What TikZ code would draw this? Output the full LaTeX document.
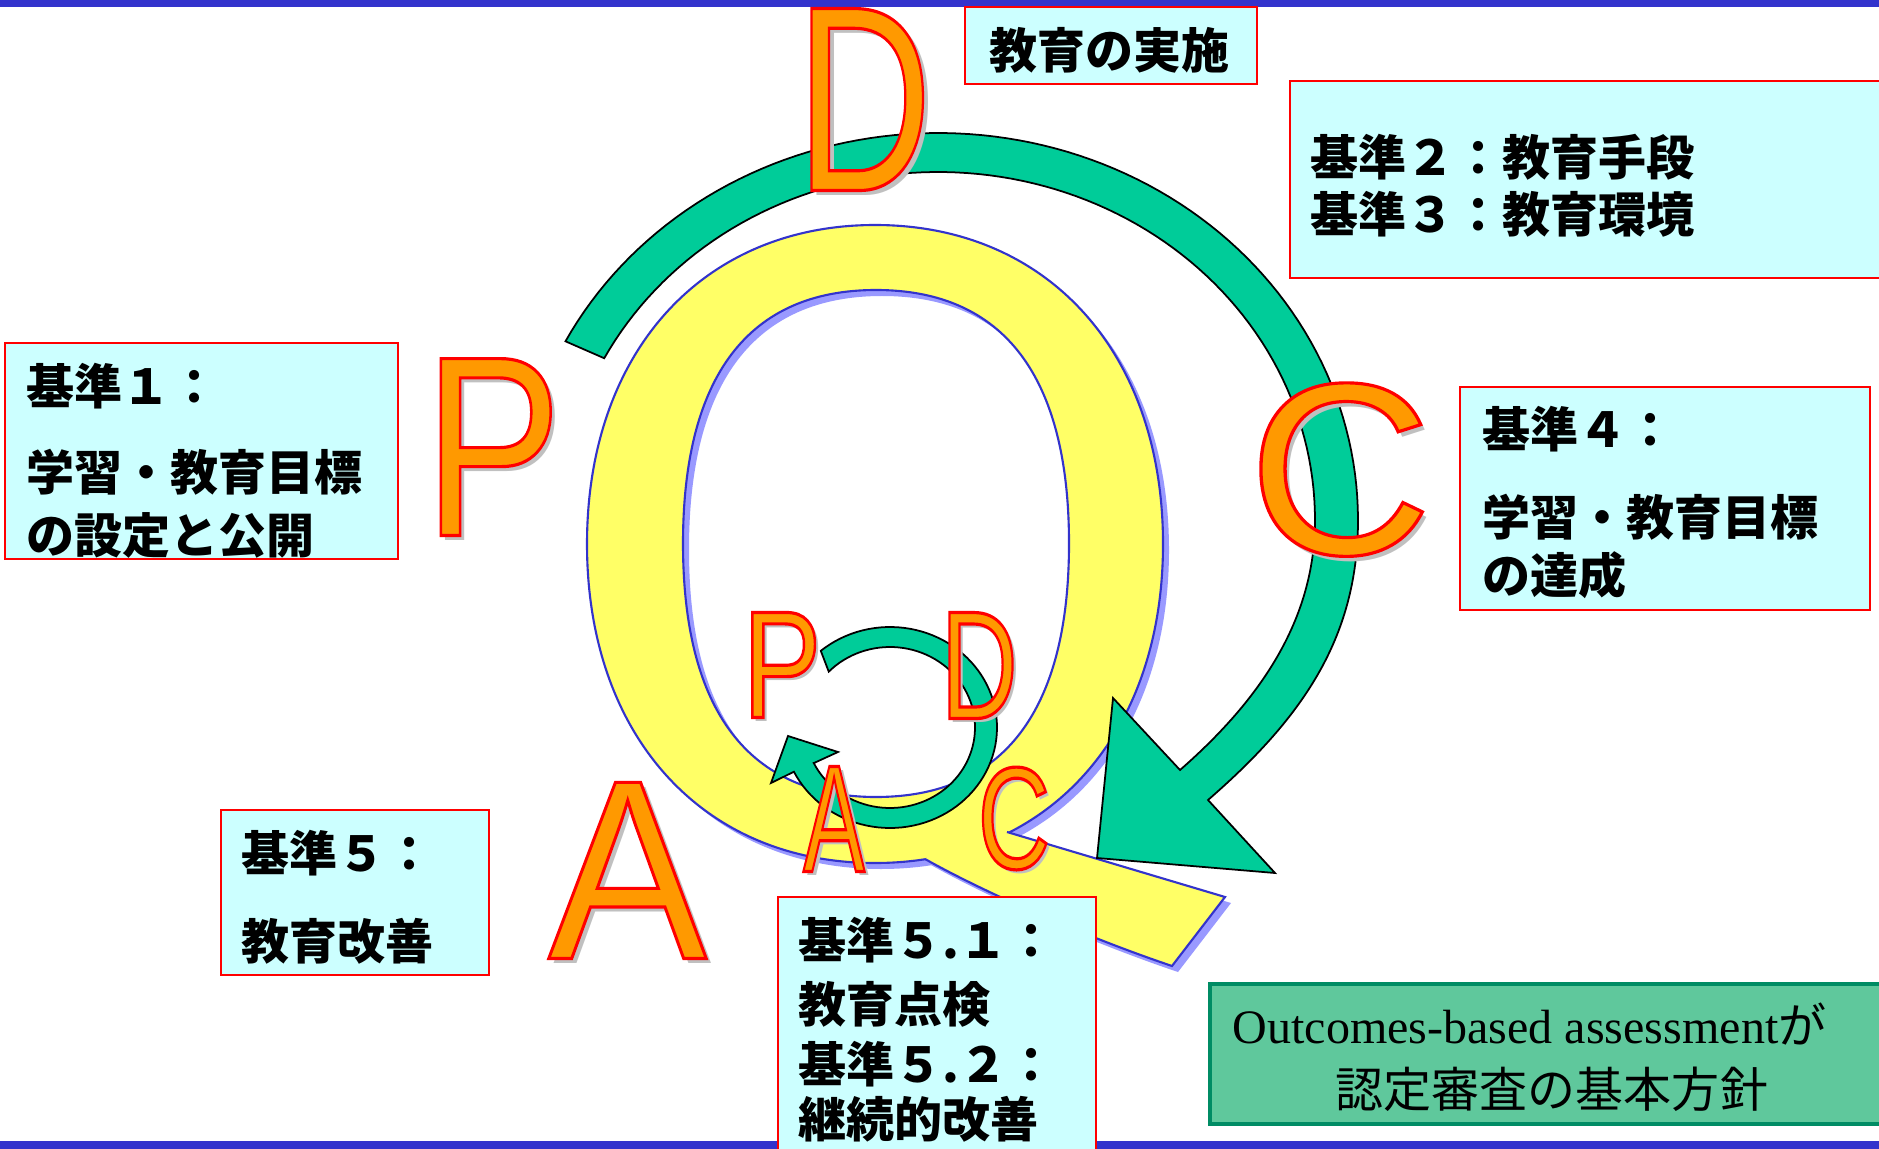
\documentclass[tikz,border=0pt]{standalone}
\usepackage{fontspec}
\usepackage{graphicx}
\newfontfamily\jp{Noto Sans CJK JP}
\newfontfamily\lat{Liberation Sans}
\newfontfamily\tms{Liberation Serif}
\definecolor{barblue}{RGB}{51,51,204}
\definecolor{boxfill}{RGB}{204,255,255}
\definecolor{qyellow}{RGB}{255,255,102}
\definecolor{qline}{RGB}{51,51,204}
\definecolor{qshadow}{RGB}{153,153,255}
\definecolor{agreen}{RGB}{0,204,153}
\definecolor{lorange}{RGB}{255,153,0}
\definecolor{lshadow}{RGB}{192,192,192}
\definecolor{gbfill}{RGB}{95,200,156}
\definecolor{gbline}{RGB}{0,140,100}
\newcommand\outl[1]{\special{pdf:code 2 Tr 1 0 0 RG 0.9 w}#1\special{pdf:code 0 Tr}}
\tikzset{
  letsh/.style={inner sep=0pt, anchor=base, text=lshadow},
  letfg/.style={inner sep=0pt, anchor=base, text=lorange},
  cbox/.style={fill=boxfill, draw=red, line width=0.75pt},
  jt/.style={font=\jp\bfseries\fontsize{13.66}{16}\selectfont, inner sep=0pt, anchor=base west},
  gt/.style={font=\fontsize{13.66}{16}\selectfont, inner sep=0pt, anchor=base west},
  garrow/.style={fill=agreen, draw=black, line width=0.5pt, line join=miter},
  qouter/.style={insert path={(1163,544) .. controls (1163,735.4) and (1047.8,863) .. (875,863) .. controls (702.2,863) and (587,735.4) .. (587,544) .. controls (587,352.6) and (702.2,225) .. (875,225) .. controls (1047.8,225) and (1163,352.6) .. (1163,544) -- cycle}},
  qinner/.style={insert path={(1069,543.5) .. controls (1069,710.8) and (1003.4,797) .. (876,797) .. controls (748.6,797) and (683,710.8) .. (683,543.5) .. controls (683,376.2) and (748.6,290) .. (876,290) .. controls (1003.4,290) and (1069,376.2) .. (1069,543.5) -- cycle}},
  qtail/.style={insert path={(1007,832) -- (1225,897) -- (1172,966) .. controls (1080,935) and (980,890) .. (925,859) -- (960,826) -- cycle}},
}
\newcommand\pdcaletter[7]{%
  \node[letsh, font=\lat\fontsize{#5}{#5}\selectfont] (#1sh) at (#2+#7,#3+#7) {\scalebox{#4}[1]{#6}};
  \node[letfg, font=\lat\fontsize{#5}{#5}\selectfont] (#1) at (#2,#3) {\scalebox{#4}[1]{\outl{#6}}};}
\begin{document}
\begin{tikzpicture}[x=0.01cm, y=-0.01cm]
\useasboundingbox (0,0) rectangle (1879,1149);
\fill[white] (0,0) rectangle (1879,1149);
% bars
\fill[barblue] (0,0) rectangle (1879,7);
\fill[barblue] (0,1141) rectangle (1879,1149);
% Q shadow
\path[fill=qshadow, even odd rule, shift={(6,6)}, qouter, qinner];
\path[fill=qshadow, shift={(6,6)}, qtail];
% Q body
\path[fill=qyellow, draw=qline, line width=0.6pt, even odd rule, qouter, qinner];
\path[fill=qyellow, qtail];
\draw[qline, line width=0.6pt] (1007,832) -- (1225,897) -- (1172,966) .. controls (1080,935) and (980,890) .. (925,859);
% big cycle arrow
\filldraw[garrow] plot[domain=207.5:360, samples=90] ({938+420*cos(\x)},{520+387*sin(\x)})
  .. controls (1358,640) and (1300,720) .. (1208,800) -- (1275,873) -- (1097,858) -- (1113,698) -- (1180,770)
  .. controls (1260,700) and (1315,620) .. (1315,520)
  -- plot[domain=360:207.7, samples=90] ({938+377*cos(\x)},{520+348*sin(\x)}) -- cycle;
% small cycle arrow
\filldraw[garrow] plot[domain=229.7:513.9, samples=90] ({890+107*cos(\x)},{727.5+100.5*sin(\x)})
  -- (771,783) -- (788,736) -- (838,752) -- (814,763)
  -- plot[domain=513.8:223.9, samples=90] ({890+85*cos(\x)},{727.5+80.5*sin(\x)}) -- cycle;
% letters
\pdcaletter{bigD}{864}{190.5}{0.712}{75.2}{D}{5}
\pdcaletter{bigP}{492.7}{535.5}{0.803}{73.1}{P}{5}
\pdcaletter{bigC}{1340}{554}{1.04}{69.7}{C}{5}
\pdcaletter{bigA}{627.5}{958.5}{0.928}{72.8}{A}{5}
\pdcaletter{smP}{782}{717.5}{0.77}{43.4}{P}{4}
\pdcaletter{smD}{979.2}{718.5}{0.692}{43.8}{D}{4}
\pdcaletter{smA}{834}{871.5}{0.606}{43.4}{A}{4}
\pdcaletter{smC}{1014}{868.5}{0.688}{41.3}{C}{4}
% boxes
\draw[cbox] (965,7) rectangle (1257,84);
\node[jt] (t0) at (989,69) {教育の実施};
\draw[cbox] (1290,81) rectangle (1890,278);
\node[jt] (t2) at (1310,176) {基準２：教育手段};
\node[jt] (t3) at (1310,233) {基準３：教育環境};
\draw[cbox] (5,343) rectangle (398,559);
\node[jt] (t1a) at (26,405) {基準１：};
\node[jt] (t1b) at (26,491) {学習・教育目標};
\node[jt] (t1c) at (26,553) {の設定と公開};
\draw[cbox] (1460,387) rectangle (1870,610);
\node[jt] (t4a) at (1482,448) {基準４：};
\node[jt] (t4b) at (1482,535) {学習・教育目標};
\node[jt] (t4c) at (1482,593) {の達成};
\draw[cbox] (221,810) rectangle (489,975);
\node[jt] (t5a) at (241,871) {基準５：};
\node[jt] (t5b) at (241,959) {教育改善};
\draw[cbox] (778,897) rectangle (1096,1160);
\node[jt] (t51a) at (798,958) {基準５.１：};
\node[jt] (t51b) at (798,1022) {教育点検};
\node[jt] (t51c) at (798,1082) {基準５.２：};
\node[jt] (t51d) at (798,1137) {継続的改善};
% green box
\draw[fill=gbfill, draw=gbline, line width=1.4pt] (1210,984) rectangle (1895,1124);
\node[gt] (g1) at (1232,1043) {{\tms Outcomes-based assessment}{\jp が}};
\node[gt] (g2) at (1335,1107) {\jp 認定審査の基本方針};
\end{tikzpicture}
\end{document}
